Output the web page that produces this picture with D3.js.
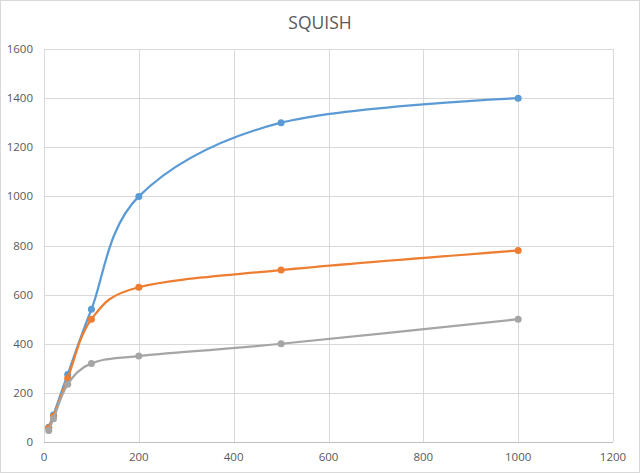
<!DOCTYPE html>
<html>
<head>
<meta charset="utf-8">
<script src="https://cdn.jsdelivr.net/npm/d3@7"></script>
<style>
  body { margin: 0; background: #fff; }
  svg text { font-family: "Open Sans", "Liberation Sans", sans-serif; fill: #595959; }
</style>
</head>
<body>
<svg id="chart"></svg>
<script>
// data
var xValues = [10, 20, 50, 100, 200, 500, 1000];
var blueValues = [60, 110, 275, 540, 1000, 1300, 1400];
var orangeValues = [57, 105, 260, 500, 630, 700, 780];
var grayValues = [47, 95, 235, 320, 350, 400, 500];
var xTicks = [0, 200, 400, 600, 800, 1000, 1200];
var yTicks = [0, 200, 400, 600, 800, 1000, 1200, 1400, 1600];

var width = 640;
var height = 473;
var svg = d3.select("#chart")
    .attr("width", width)
    .attr("height", height);

// outer frame
svg.append("rect")
    .attr("x", 0.5).attr("y", 0.5)
    .attr("width", width - 1).attr("height", height - 1)
    .attr("fill", "#fff")
    .attr("stroke", "#d9d9d9");

var xScale = d3.scaleLinear().domain([0, 1200]).range([44, 613]);
var yScale = d3.scaleLinear().domain([0, 1600]).range([442, 49]);

// gridlines
svg.append("g")
    .selectAll("line.h")
    .data(yTicks)
    .join("line")
    .attr("x1", xScale(0)).attr("x2", xScale(1200))
    .attr("y1", d => Math.round(yScale(d)) + 0.5)
    .attr("y2", d => Math.round(yScale(d)) + 0.5)
    .attr("stroke", d => d === 0 ? "#bfbfbf" : "#d9d9d9");

svg.append("g")
    .selectAll("line.v")
    .data(xTicks)
    .join("line")
    .attr("y1", yScale(0)).attr("y2", yScale(1600))
    .attr("x1", d => Math.round(xScale(d)) + 0.5)
    .attr("x2", d => Math.round(xScale(d)) + 0.5)
    .attr("stroke", "#d9d9d9");

// tick labels
svg.append("g")
    .selectAll("text")
    .data(yTicks)
    .join("text")
    .attr("x", 33)
    .attr("y", d => yScale(d) + 4)
    .attr("text-anchor", "end")
    .attr("font-size", 11.5)
    .text(d => d);

svg.append("g")
    .selectAll("text")
    .data(xTicks)
    .join("text")
    .attr("x", d => xScale(d))
    .attr("y", 461)
    .attr("text-anchor", "middle")
    .attr("font-size", 11.5)
    .text(d => d);

// title
svg.append("text")
    .attr("x", 320)
    .attr("y", 29)
    .attr("text-anchor", "middle")
    .attr("font-size", 17.5)
    .text("SQUISH");

var series = [
    {name: "blue", values: blueValues, color: "#5b9bd5"},
    {name: "orange", values: orangeValues, color: "#ed7d31"},
    {name: "gray", values: grayValues, color: "#a5a5a5"}
];

var line = d3.line()
    .x(d => xScale(d[0]))
    .y(d => yScale(d[1]))
    .curve(d3.curveCardinal.tension(0));

// series order as in the spreadsheet: gray is painted last
series.forEach(function(s) {
    var pts = xValues.map((x, i) => [x, s.values[i]]);
    var g = svg.append("g");
    g.append("path")
        .datum(pts)
        .attr("d", line)
        .attr("fill", "none")
        .attr("stroke", s.color)
        .attr("stroke-width", 2.25)
        .attr("stroke-linecap", "round");
    g.selectAll("circle")
        .data(pts)
        .join("circle")
        .attr("cx", d => xScale(d[0]))
        .attr("cy", d => yScale(d[1]))
        .attr("r", 3.5)
        .attr("fill", s.color);
});
</script>
</body>
</html>
